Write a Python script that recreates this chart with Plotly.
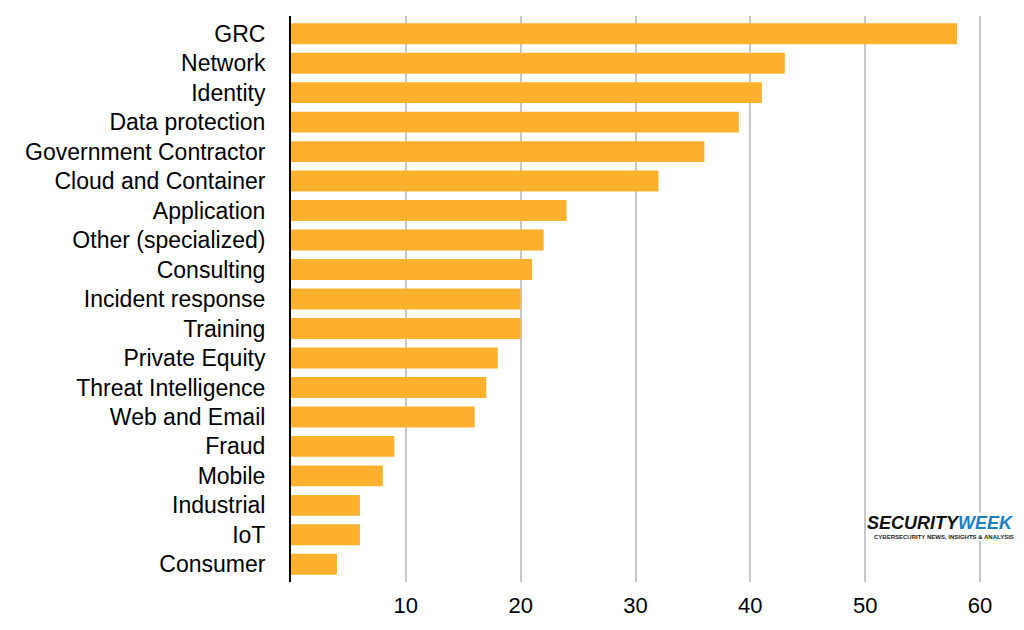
import plotly.graph_objects as go

# categories, top to bottom as shown
categories = ["GRC", "Network", "Identity", "Data protection", "Government Contractor",
              "Cloud and Container", "Application", "Other (specialized)", "Consulting",
              "Incident response", "Training", "Private Equity", "Threat Intelligence",
              "Web and Email", "Fraud", "Mobile", "Industrial", "IoT", "Consumer"]
counts = [58, 43, 41, 39, 36, 32, 24, 22, 21, 20, 20, 18, 17, 16, 9, 8, 6, 6, 4]
tick_vals = [10, 20, 30, 40, 50, 60]

fig = go.Figure(go.Bar(
    x=counts,
    y=categories,
    orientation="h",
    marker=dict(color="#FFB02C", line=dict(width=0)),
    hoverinfo="x+y",
))

# page body has an 8px margin, so the figure is sized to fit inside it
fig.update_layout(
    width=1016, height=622,
    margin=dict(l=283, r=21, t=8, b=48),
    paper_bgcolor="white", plot_bgcolor="white",
    font=dict(family="Liberation Sans, Arial, sans-serif", size=22, color="black"),
    bargap=0.29,
    showlegend=False,
)

fig.update_xaxes(
    range=[0, 62],
    tickvals=tick_vals,
    showgrid=True, gridcolor="#c8c8c8", gridwidth=1.5,
    zeroline=False, showline=False,
    ticks="", ticklabelstandoff=8,
    tickfont=dict(size=22),
    automargin=False,
)

fig.update_yaxes(
    range=[len(categories) - 0.4, -0.6],
    showline=True, linecolor="black", linewidth=2,
    showgrid=False, ticks="", ticklabelstandoff=19,
    tickfont=dict(size=23),
    automargin=False,
)

# SecurityWeek logo as text
fig.add_annotation(
    xref="paper", yref="paper", x=1.017, y=0.104, xanchor="right", yanchor="middle",
    text="<b><i><span style='color:#111'>SECURITY</span><span style='color:#1a7fc1'>WEEK</span></i></b>",
    showarrow=False, font=dict(size=18, family="Liberation Sans, sans-serif"),
    bgcolor="white", borderpad=0,
)
fig.add_annotation(
    xref="paper", yref="paper", x=1.017, y=0.079, xanchor="right", yanchor="middle",
    text="<b>CYBERSECURITY NEWS, INSIGHTS &amp; ANALYSIS</b>",
    showarrow=False, font=dict(size=6, family="Liberation Sans, sans-serif", color="#222"),
    bgcolor="white", borderpad=0,
)

fig.write_html("out.html")
